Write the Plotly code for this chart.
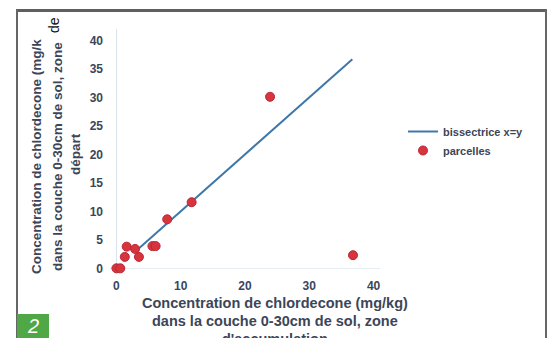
import plotly.graph_objects as go

# Data
parcel_x = [0.0, 0.6, 1.3, 1.6, 2.9, 3.5, 5.6, 6.1, 7.9, 11.7, 23.9, 36.8]
parcel_y = [0.0, 0.0, 2.0, 3.8, 3.4, 2.0, 3.9, 3.9, 8.6, 11.6, 30.1, 2.3]
line_x = [3.3, 36.7]
line_y = [3.3, 36.7]
x_ticks = [0, 10, 20, 30, 40]
y_ticks = [0, 5, 10, 15, 20, 25, 30, 35, 40]

W, H = 552, 338
L, R, T, B = 110, 172, 29, 64
PW, PH = W - L - R, H - T - B

def px(x):
    return (x - L) / PW

def py(y):
    return (H - B - y) / PH

TXT = "#3b4658"
FONT = "Liberation Sans"

fig = go.Figure()
fig.add_trace(go.Scatter(x=line_x, y=line_y, mode="lines", name="bissectrice x=y",
                         line=dict(color="#3f78a8", width=2)))
fig.add_trace(go.Scatter(x=parcel_x, y=parcel_y, mode="markers", name="parcelles",
                         marker=dict(color="#d8343c", size=9,
                                     line=dict(color="#b8283a", width=1))))

shapes = [
    dict(type="rect", xref="paper", yref="paper", x0=px(16), x1=px(547), y0=py(12), y1=py(9),
         fillcolor="#5f5f5f", line=dict(width=0), layer="above"),
    dict(type="rect", xref="paper", yref="paper", x0=px(16), x1=px(18), y0=py(345), y1=py(9),
         fillcolor="#666", line=dict(width=0), layer="above"),
    dict(type="rect", xref="paper", yref="paper", x0=px(545), x1=px(547), y0=py(345), y1=py(9),
         fillcolor="#666", line=dict(width=0), layer="above"),
    dict(type="rect", xref="paper", yref="paper", x0=px(17), x1=px(49), y0=py(314), y1=py(338),
         fillcolor="#4fa845", line=dict(width=0)),
]

ann = []
yt1 = "Concentration de chlordecone (mg/k"
yt2 = "dans la couche 0-30cm de sol, zone"
for xp, yp, t in [(36, 157, yt1), (57, 157, yt2), (75, 154, "départ")]:
    ann.append(dict(text="<b>%s</b>" % t, xref="paper", yref="paper", x=px(xp), y=py(yp),
                    textangle=-90, showarrow=False, xanchor="center", yanchor="middle",
                    font=dict(family=FONT, size=13.5, color=TXT)))
ann.append(dict(text="de", xref="paper", yref="paper", x=px(54), y=py(25), textangle=-90,
                showarrow=False, xanchor="center", yanchor="middle", bgcolor="white",
                font=dict(family=FONT, size=14, color="#111")))
for xp, yp, t in [(275, 303, "Concentration de chlordecone (mg/kg)"),
                  (275, 321, "dans la couche 0-30cm de sol, zone"),
                  (275, 339, "d'accumulation")]:
    ann.append(dict(text="<b>%s</b>" % t, xref="paper", yref="paper", x=px(xp), y=py(yp),
                    showarrow=False, xanchor="center", yanchor="middle",
                    font=dict(family=FONT, size=14.5, color=TXT)))
ann.append(dict(text="<i>2</i>", xref="paper", yref="paper", x=px(33), y=py(326),
                showarrow=False, xanchor="center", yanchor="middle",
                font=dict(family=FONT, size=20, color="white")))

fig.update_layout(
    width=W, height=H, margin=dict(l=L, r=R, t=T, b=B),
    paper_bgcolor="white", plot_bgcolor="white",
    showlegend=True,
    legend=dict(x=px(403), y=py(141), xanchor="left", yanchor="middle",
                font=dict(family=FONT, size=11, color=TXT, weight="bold"),
                tracegroupgap=0, itemwidth=30, bgcolor="rgba(0,0,0,0)"),
    xaxis=dict(range=[-1, 41], tickvals=x_ticks, showgrid=False, zeroline=True,
               zerolinecolor="#dbe4ee", zerolinewidth=1, showline=False, ticks="",
               ticklabelstandoff=3,
               tickfont=dict(family=FONT, size=12, color=TXT, weight="bold")),
    yaxis=dict(range=[-1, 42], tickvals=y_ticks, showgrid=False, zeroline=True,
               zerolinecolor="#e6edf3", zerolinewidth=1, showline=False, ticks="",
               ticklabelstandoff=6,
               tickfont=dict(family=FONT, size=12, color=TXT, weight="bold")),
    shapes=shapes, annotations=ann,
)
fig.write_html("out.html", config={"displayModeBar": False},
               post_script="document.body.style.margin='0';document.body.style.overflow='hidden';")
